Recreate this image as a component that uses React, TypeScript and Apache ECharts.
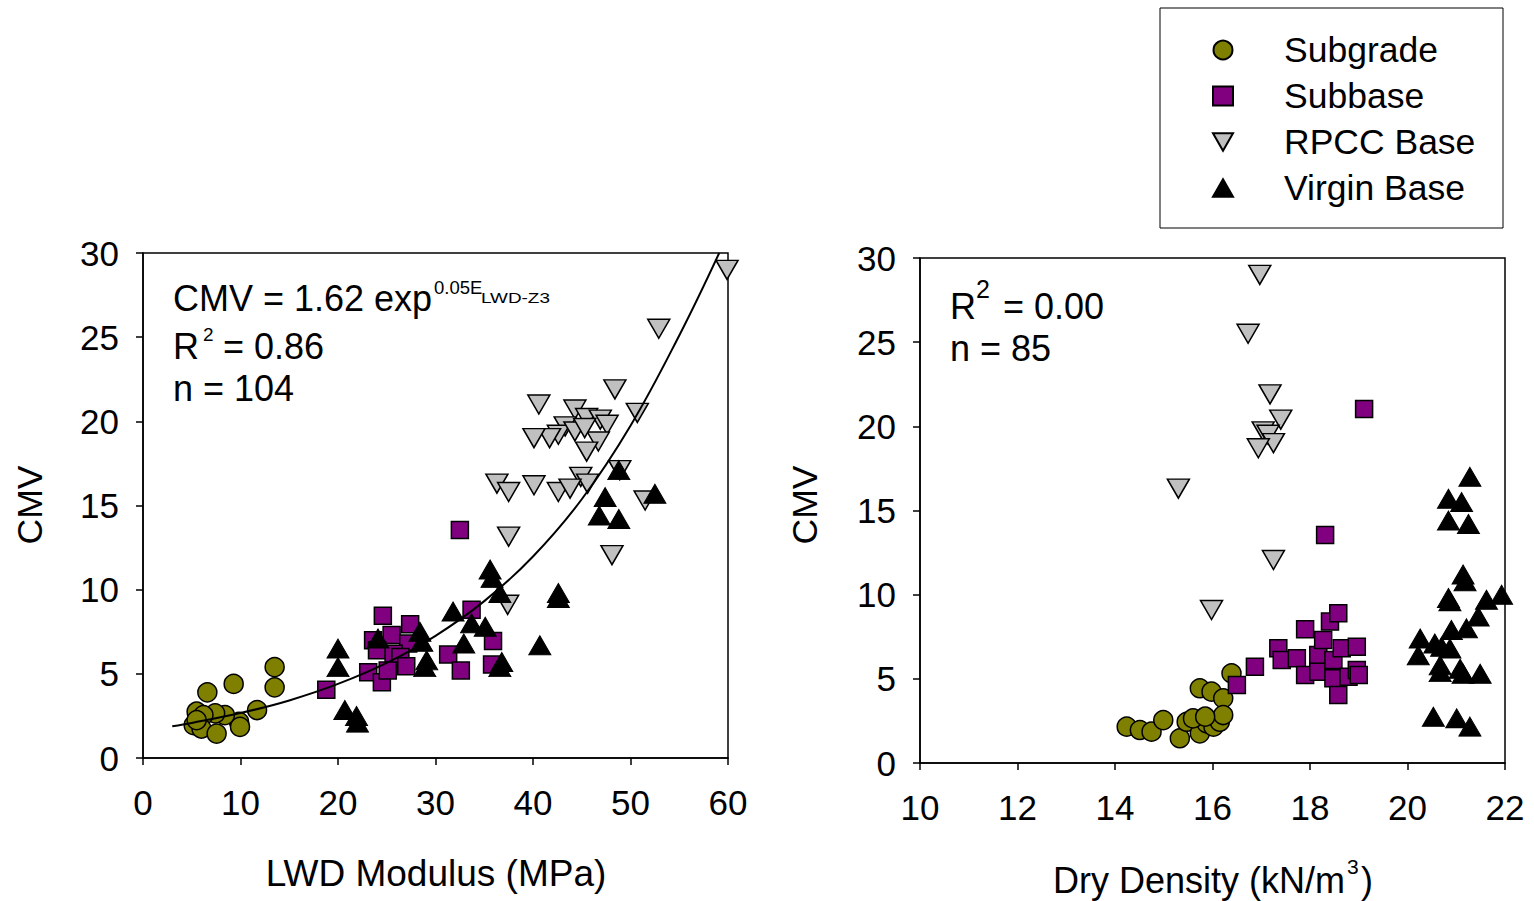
import React, { useEffect, useRef } from "react";
import * as echarts from "echarts";

// ---- Data ----
// Left panel: [LWD modulus (MPa), CMV]
const subgradeLWD = [
  [13.5, 5.4], [13.5, 4.2], [9.3, 4.4], [6.6, 3.9], [11.7, 2.85], [9.85, 2.15], [9.95, 1.85],
  [8.4, 2.55], [7.4, 2.65], [5.5, 2.75], [6.2, 2.55], [5.2, 1.95], [6.0, 1.75], [7.55, 1.45], [5.5, 2.25],
];
const subbaseLWD = [
  [18.8, 4.05], [24.6, 8.45], [27.4, 7.95], [25.5, 7.3], [23.6, 7.0], [27.2, 6.8], [24.0, 6.4],
  [25.7, 6.2], [26.4, 6.0], [23.1, 5.1], [24.5, 4.5], [25.1, 5.2], [27.0, 5.45], [31.3, 6.15],
  [33.7, 8.8], [32.6, 5.2], [35.9, 6.95], [35.8, 5.55], [32.5, 13.55],
];
const rpccLWD = [
  [48.4, 21.9], [40.6, 21.0], [44.3, 20.7], [45.5, 20.2], [46.9, 20.1], [47.6, 19.8], [43.3, 19.7],
  [50.7, 20.5], [42.6, 19.2], [41.7, 19.0], [40.1, 19.0], [44.3, 19.4], [46.7, 18.8], [45.5, 18.2],
  [45.3, 19.6], [48.9, 17.1], [44.9, 16.7], [45.6, 16.3], [36.3, 16.3], [37.5, 15.8], [40.1, 16.2],
  [42.6, 15.8], [43.8, 16.0], [51.5, 15.3], [37.5, 13.15], [48.1, 12.05], [37.4, 9.1], [59.9, 29.0],
  [52.9, 25.5],
];
const virginLWD = [
  [20.0, 6.5], [20.0, 5.4], [20.7, 2.85], [21.9, 2.5], [22.0, 2.1], [24.1, 7.1], [28.4, 7.5],
  [28.6, 6.9], [29.1, 5.8], [28.9, 5.4], [31.8, 8.7], [33.7, 8.0], [32.9, 6.8], [35.1, 7.8],
  [35.6, 11.2], [35.8, 10.7], [36.6, 9.8], [36.8, 5.7], [36.6, 5.4], [40.7, 6.7], [42.6, 9.8],
  [42.6, 9.5], [47.4, 15.5], [48.8, 17.1], [46.8, 14.4], [48.8, 14.2], [52.5, 15.7],
];
// Fitted curve CMV = 1.62 exp(0.05 E)
const fitLWD = [
  [3, 1.88], [5, 2.08], [10, 2.67], [15, 3.42], [20, 4.4], [25, 5.65], [30, 7.26], [35, 9.32],
  [40, 11.97], [45, 15.37], [50, 19.74], [55, 25.1], [59.1, 30.0],
];

// Right panel: [dry density (kN/m3), CMV]
const subgradeDD = [
  [14.24, 2.16], [14.51, 1.96], [14.75, 1.86], [14.99, 2.55], [15.33, 1.47], [15.47, 2.45],
  [15.74, 4.44], [15.98, 4.24], [16.22, 3.84], [16.39, 5.33], [15.74, 1.76], [15.88, 2.36],
  [16.02, 2.16], [16.15, 2.45], [16.22, 2.85], [15.6, 2.65], [15.85, 2.75],
];
const subbaseDD = [
  [16.5, 4.63], [16.87, 5.72], [17.35, 6.81], [17.42, 6.12], [17.73, 6.22], [17.9, 7.94], [17.9, 5.23],
  [18.17, 6.42], [18.17, 5.42], [18.27, 7.31], [18.41, 8.4], [18.58, 8.9], [18.48, 6.12], [18.65, 6.81],
  [18.96, 6.91], [18.48, 5.03], [18.58, 4.04], [18.79, 5.13], [18.96, 5.53], [19.0, 5.23],
  [19.11, 21.03], [18.31, 13.55],
];
const rpccDD = [
  [16.97, 29.0], [16.73, 25.5], [17.18, 21.9], [17.4, 20.4], [17.04, 19.7], [17.14, 19.5],
  [17.25, 19.0], [16.94, 18.7], [15.3, 16.3], [17.25, 12.06], [15.98, 9.09],
];
const virginDD = [
  [21.28, 17.0], [20.84, 15.7], [21.11, 15.5], [20.84, 14.4], [21.25, 14.2], [21.14, 11.2],
  [21.18, 10.8], [20.84, 9.8], [20.87, 9.6], [21.93, 10.0], [21.62, 9.7], [21.45, 8.7], [21.21, 8.0],
  [20.9, 7.9], [20.26, 7.4], [20.22, 6.4], [20.56, 7.1], [20.7, 6.9], [20.87, 6.8], [20.67, 5.8],
  [20.67, 5.4], [21.08, 5.6], [21.14, 5.3], [21.49, 5.3], [20.53, 2.75], [21.01, 2.65], [21.28, 2.16],
];

const seriesNames = ["Subgrade", "Subbase", "RPCC Base", "Virgin Base"];
const leftX = { min: 0, max: 60, interval: 10 };
const rightX = { min: 10, max: 22, interval: 2 };
const yRange = { min: 0, max: 30, interval: 5 };

const FONT = "Liberation Sans, Arial, Helvetica, sans-serif";

const styles: Record<string, any> = {
  Subgrade: { symbol: "circle", symbolSize: 19, itemStyle: { color: "#808000", borderColor: "#000", borderWidth: 1.5, opacity: 1 } },
  Subbase: { symbol: "rect", symbolSize: 17, itemStyle: { color: "#800080", borderColor: "#000", borderWidth: 1.5, opacity: 1 } },
  "RPCC Base": { symbol: "path://M0,0 L22,0 L11,19 Z", symbolSize: [22, 19], itemStyle: { color: "#C0C0C0", borderColor: "#000", borderWidth: 1.5, opacity: 1 } },
  "Virgin Base": { symbol: "path://M11,0 L22,19 L0,19 Z", symbolSize: [22, 19], itemStyle: { color: "#000", borderColor: "#000", borderWidth: 1, opacity: 1 } },
};

function xAxisCfg(gridIndex: number, r: any) {
  return {
    gridIndex, type: "value", min: r.min, max: r.max, interval: r.interval,
    axisLine: { show: true, onZero: false, lineStyle: { color: "#000", width: 1.5 } },
    axisTick: { show: true, length: 7, lineStyle: { color: "#000", width: 1.5 } },
    axisLabel: { fontSize: 35, color: "#000", margin: 27, fontFamily: FONT },
    splitLine: { show: false },
  };
}
function yAxisCfg(gridIndex: number) {
  return {
    gridIndex, type: "value", min: yRange.min, max: yRange.max, interval: yRange.interval,
    axisLine: { show: true, onZero: false, lineStyle: { color: "#000", width: 1.5 } },
    axisTick: { show: true, length: 7, lineStyle: { color: "#000", width: 1.5 } },
    axisLabel: { fontSize: 35, color: "#000", margin: 24, fontFamily: FONT },
    splitLine: { show: false },
  };
}

function txt(text: string, x: number, y: number, size: number, extra: any = {}) {
  const { align, ...rest } = extra;
  return {
    type: "text",
    x, y,
    ...rest,
    style: {
      text, x: 0, y: 0, fill: "#000", fontSize: size, fontFamily: FONT,
      textAlign: align || "left", align: align || "left",
      textVerticalAlign: "middle", verticalAlign: "middle",
    },
  };
}

export default function App() {
  const ref = useRef<HTMLDivElement>(null);
  useEffect(() => {
    if (!ref.current) return;
    const chart = echarts.init(ref.current, null, { renderer: "svg" });
    const scatter = (name: string, data: number[][], gi: number) => ({
      name, type: "scatter", xAxisIndex: gi, yAxisIndex: gi, data,
      ...styles[name], z: 2 + seriesNames.indexOf(name),
    });
    chart.setOption({
      animation: false,
      backgroundColor: "#fff",
      textStyle: { fontFamily: FONT },
      grid: [
        { left: 143, top: 253, width: 585, height: 505, show: true, borderColor: "#000", borderWidth: 1.5, backgroundColor: "transparent" },
        { left: 920, top: 258, width: 585, height: 505, show: true, borderColor: "#000", borderWidth: 1.5, backgroundColor: "transparent" },
      ],
      xAxis: [xAxisCfg(0, leftX), xAxisCfg(1, rightX)],
      yAxis: [yAxisCfg(0), yAxisCfg(1)],
      legend: {
        data: seriesNames,
        orient: "vertical",
        left: 1207, top: 27,
        itemWidth: 20, itemHeight: 19, itemGap: 10,
        textStyle: { fontSize: 35.5, color: "#000", fontFamily: FONT, padding: [0, 0, 0, 46] },
      },
      series: [
        scatter("Subgrade", subgradeLWD, 0),
        scatter("Subbase", subbaseLWD, 0),
        scatter("RPCC Base", rpccLWD, 0),
        scatter("Virgin Base", virginLWD, 0),
        scatter("Subgrade", subgradeDD, 1),
        scatter("Subbase", subbaseDD, 1),
        scatter("RPCC Base", rpccDD, 1),
        scatter("Virgin Base", virginDD, 1),
        {
          name: "fit", type: "line", xAxisIndex: 0, yAxisIndex: 0, data: fitLWD,
          smooth: 0.4, showSymbol: false, symbol: "none", z: 10,
          lineStyle: { color: "#000", width: 2 },
        },
      ],
      graphic: [
        { type: "rect", shape: { x: 1160, y: 8, width: 343, height: 220 }, style: { fill: "none", stroke: "#000", lineWidth: 1 }, z: 0 },
        // axis titles
        txt("CMV", 30, 505, 35.5, { rotation: Math.PI / 2, align: "center" }),
        txt("CMV", 805, 505, 35.5, { rotation: Math.PI / 2, align: "center" }),
        txt("LWD Modulus (MPa)", 436, 873, 37, { align: "center" }),
        txt("Dry Density (kN/m", 1053, 880, 36),
        txt("3", 1347, 866, 21),
        txt(")", 1361, 880, 36),
        // left annotation
        txt("CMV = 1.62 exp", 173, 298, 36),
        txt("0.05E", 434, 287, 18.5),
        txt("LWD-Z3", 481, 298, 14, { scaleX: 1.35 }),
        txt("R", 173, 346, 36),
        txt("2", 203, 334, 19),
        txt("= 0.86", 223, 346, 36),
        txt("n = 104", 173, 388, 36),
        // right annotation
        txt("R", 950, 306, 36),
        txt("2", 976, 289, 25),
        txt("= 0.00", 1003, 306, 36),
        txt("n = 85", 950, 348, 36),
      ],
    });
    return () => chart.dispose();
  }, []);
  return <div ref={ref} style={{ position: "absolute", left: 0, top: 0, width: 1534, height: 901 }} />;
}
